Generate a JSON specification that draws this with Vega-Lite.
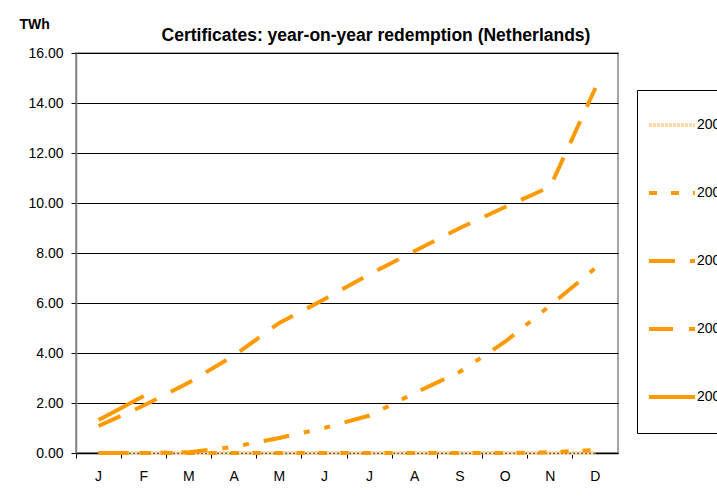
{
  "$schema": "https://vega.github.io/schema/vega-lite/v6.json",
  "autosize": {"type": "none"},
  "width": 542,
  "height": 400,
  "padding": {"left": 76, "top": 53, "right": 99, "bottom": 44},
  "background": "white",
  "title": {
    "text": "Certificates: year-on-year redemption (Netherlands)",
    "anchor": "middle",
    "frame": "group",
    "dx": 29,
    "fontSize": 17.5,
    "fontWeight": "bold",
    "font": "Liberation Sans",
    "color": "black",
    "baseline": "alphabetic",
    "offset": -41
  },
  "config": {
    "view": {"stroke": "#A6A6A6", "strokeWidth": 2},
    "font": "Liberation Sans"
  },
  "data": {
    "values": [
      {"year": "2003", "month": "Jan", "v": 0}, {"year": "2003", "month": "Feb", "v": 0}, {"year": "2003", "month": "Mar", "v": 0}, {"year": "2003", "month": "Apr", "v": 0}, {"year": "2003", "month": "May", "v": 0}, {"year": "2003", "month": "Jun", "v": 0}, {"year": "2003", "month": "Jul", "v": 0}, {"year": "2003", "month": "Aug", "v": 0}, {"year": "2003", "month": "Sep", "v": 0}, {"year": "2003", "month": "Oct", "v": 0}, {"year": "2003", "month": "Nov", "v": 0}, {"year": "2003", "month": "Dec", "v": 0},
      {"year": "2004", "month": "Jan", "v": 0}, {"year": "2004", "month": "Feb", "v": 0}, {"year": "2004", "month": "Mar", "v": 0}, {"year": "2004", "month": "Apr", "v": 0}, {"year": "2004", "month": "May", "v": 0}, {"year": "2004", "month": "Jun", "v": 0}, {"year": "2004", "month": "Jul", "v": 0}, {"year": "2004", "month": "Aug", "v": 0}, {"year": "2004", "month": "Sep", "v": 0}, {"year": "2004", "month": "Oct", "v": 0}, {"year": "2004", "month": "Nov", "v": 0.03}, {"year": "2004", "month": "Dec", "v": 0.12},
      {"year": "2005", "month": "Jan", "v": 0}, {"year": "2005", "month": "Feb", "v": 0}, {"year": "2005", "month": "Mar", "v": 0.03}, {"year": "2005", "month": "Apr", "v": 0.25}, {"year": "2005", "month": "May", "v": 0.6}, {"year": "2005", "month": "Jun", "v": 1.0}, {"year": "2005", "month": "Jul", "v": 1.5}, {"year": "2005", "month": "Aug", "v": 2.4}, {"year": "2005", "month": "Sep", "v": 3.25}, {"year": "2005", "month": "Oct", "v": 4.45}, {"year": "2005", "month": "Nov", "v": 5.9}, {"year": "2005", "month": "Dec", "v": 7.4},
      {"year": "2006", "month": "Jan", "v": 1.08}, {"year": "2006", "month": "Feb", "v": 1.9}, {"year": "2006", "month": "Mar", "v": 2.82}, {"year": "2006", "month": "Apr", "v": 3.9}, {"year": "2006", "month": "May", "v": 5.2}, {"year": "2006", "month": "Jun", "v": 6.15}, {"year": "2006", "month": "Jul", "v": 7.15}, {"year": "2006", "month": "Aug", "v": 8.08}, {"year": "2006", "month": "Sep", "v": 9.0}, {"year": "2006", "month": "Oct", "v": 9.84}, {"year": "2006", "month": "Nov", "v": 10.65}, {"year": "2006", "month": "Dec", "v": 14.6},
      {"year": "2007", "month": "Jan", "v": 1.32}, {"year": "2007", "month": "Feb", "v": 2.28}
    ]
  },
  "mark": {"type": "line", "strokeWidth": 4, "strokeCap": "butt"},
  "encoding": {
    "x": {
      "field": "month",
      "type": "ordinal",
      "sort": ["Jan", "Feb", "Mar", "Apr", "May", "Jun", "Jul", "Aug", "Sep", "Oct", "Nov", "Dec"],
      "scale": {"type": "band", "paddingInner": 0, "paddingOuter": 0},
      "bandPosition": 0.5,
      "axis": {
        "title": null,
        "labelExpr": "substring(datum.value, 0, 1)",
        "labelAngle": 0,
        "labelFontSize": 14,
        "labelColor": "black",
        "labelPadding": 11,
        "bandPosition": 0,
        "tickSize": 5,
        "tickColor": "black",
        "domainColor": "black",
        "domainWidth": 1.5,
        "grid": false
      }
    },
    "y": {
      "field": "v",
      "type": "quantitative",
      "scale": {"domain": [0, 16], "nice": false},
      "axis": {
        "title": "TWh",
        "titleAngle": 0,
        "titleAlign": "left",
        "titleBaseline": "alphabetic",
        "titleX": -57,
        "titleY": -25,
        "titleFontSize": 14,
        "titleFontWeight": "bold",
        "titleColor": "black",
        "values": [0, 2, 4, 6, 8, 10, 12, 14, 16],
        "format": ".2f",
        "labelFontSize": 14,
        "labelColor": "black",
        "labelPadding": 8,
        "tickSize": 5,
        "tickColor": "black",
        "domainColor": "#7F7F7F",
        "domainWidth": 1.5,
        "grid": true,
        "gridColor": "black",
        "gridWidth": 1
      }
    },
    "color": {
      "field": "year",
      "type": "nominal",
      "scale": {"domain": ["2003", "2004", "2005", "2006", "2007"], "range": ["#FFD9A3", "#FF9900", "#FF9900", "#FF9900", "#FF9900"]},
      "legend": {
        "title": " ",
        "titleOrient": "bottom",
        "titleFontSize": 8,
        "titlePadding": 10,
        "orient": "none",
        "legendX": 561,
        "legendY": 37,
        "strokeColor": "black",
        "padding": 10,
        "symbolType": "stroke",
        "symbolSize": 2116,
        "symbolStrokeWidth": 4,
        "labelFontSize": 14,
        "labelColor": "black",
        "labelOffset": 0,
        "rowPadding": 35,
        "labelLimit": 200
      }
    },
    "strokeDash": {
      "field": "year",
      "type": "nominal",
      "scale": {"domain": ["2003", "2004", "2005", "2006", "2007"], "range": [[3, 1], [8, 14], [26, 15, 6, 15, 6, 15], [24, 16], [1, 0]]},
      "legend": {
        "title": " ",
        "titleOrient": "bottom",
        "titleFontSize": 8,
        "titlePadding": 10,
        "orient": "none",
        "legendX": 561,
        "legendY": 37,
        "strokeColor": "black",
        "padding": 10,
        "symbolType": "stroke",
        "symbolSize": 2116,
        "symbolStrokeWidth": 4,
        "labelFontSize": 14,
        "labelColor": "black",
        "labelOffset": 0,
        "rowPadding": 35,
        "labelLimit": 200
      }
    }
  }
}
